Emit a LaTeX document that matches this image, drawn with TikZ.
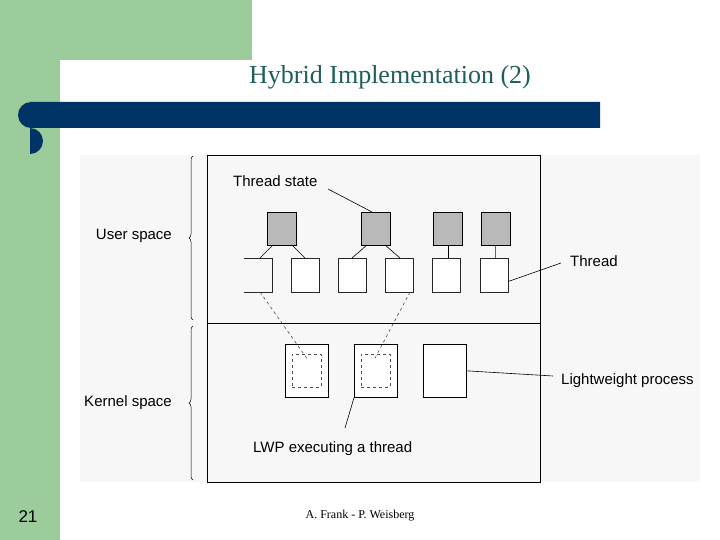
\documentclass[tikz,border=0pt]{standalone}
\usepackage{fontspec}
\setmainfont{Liberation Serif}
\setsansfont{Liberation Sans}
\usetikzlibrary{decorations.pathreplacing}
\definecolor{sgreen}{HTML}{9DCC9C}
\definecolor{sblue}{HTML}{003466}
\definecolor{steal}{HTML}{1F5F5B}
\begin{document}
\begin{tikzpicture}[x=1pt,y=-1pt,
  lbl/.style={font=\sffamily\fontsize{15}{15}\selectfont,inner sep=0pt},
  st/.style={draw=black,fill=gray!55,line width=0.8pt},
  th/.style={draw=black!85,fill=white,line width=0.7pt},
  lwp/.style={draw=black,fill=white,line width=0.7pt},
  dsh/.style={draw=black!70,dashed,line width=0.6pt},
  ln/.style={draw=black,line width=0.6pt}]
\useasboundingbox (0,0) rectangle (720,540);
\fill[white] (0,0) rectangle (720,540);
\fill[sgreen] (0,0) rectangle (252,60);
\fill[sgreen] (0,0) rectangle (60,540);
\fill[white] (60,128) -- (60,85) arc[start angle=180,end angle=90,radius=25] -- (252,60) -- (252,128) -- cycle;
\fill[sblue] (30,102) -- (600,102) -- (600,128) -- (30,128) arc[start angle=90,end angle=270,radius=-13] -- cycle;
\fill[sblue] (31,102) rectangle (600,128);
\fill[sblue] (31,115) circle[radius=13];
\node[text=steal,font=\fontsize{26}{26}\selectfont,inner sep=0pt] (title) at (390,77) {Hybrid Implementation (2)};
\fill[black!3] (80,155) rectangle (700,482);
% outer box
\draw[line width=0.8pt] (207,155) rectangle (540,482);
\draw[line width=1pt] (207,323) -- (540,323);
% thread states
\node[st,minimum width=29pt,minimum height=33pt,anchor=north west] (s1) at (267,212) {};
\node[st,minimum width=29pt,minimum height=33pt,anchor=north west] (s2) at (361,212) {};
\node[st,minimum width=29pt,minimum height=33pt,anchor=north west] (s3) at (433,212) {};
\node[st,minimum width=29pt,minimum height=33pt,anchor=north west] (s4) at (481,212) {};
% threads
\foreach \n/\x in {t2/291,t3/338,t4/385,t5/432,t6/480}{
  \node[th,minimum width=28pt,minimum height=34pt,anchor=north west] (\n) at (\x,258) {};}
\coordinate (t1a) at (244,258);
\node[inner sep=0pt,minimum width=28pt,minimum height=34pt,anchor=north west] (t1) at (244,258) {};
\draw[th,fill=none] (244,258) -- (272,258) -- (272,292) -- (244,292);
\draw[ln] (273,245) -- (260,258);
\draw[ln] (292,245) -- (305,258);
\draw[ln] (367,245) -- (352,258);
\draw[ln] (385,245) -- (400,258);
\draw[ln] (s3.south) -- (s3.south |- t5.north);
\draw[ln,black!60,line width=1pt] (s4.south) -- (s4.south |- t6.north);
% LWPs
\node[lwp,minimum width=43pt,minimum height=53pt,anchor=north west] (l1) at (285,344) {};
\node[lwp,minimum width=43pt,minimum height=53pt,anchor=north west] (l2) at (354,344) {};
\node[lwp,minimum width=43pt,minimum height=53pt,anchor=north west] (l3) at (423,344) {};
\node[dsh,minimum width=29pt,minimum height=33pt] (i1) at (l1.center) {};
\node[dsh,minimum width=29pt,minimum height=33pt] (i2) at (l2.center) {};
\draw[dsh] (260,292) -- (308,360);
\draw[dsh] (410,292) -- (374,360);
% labels
\node[lbl,anchor=west] (ts) at (233,181) {Thread state};
\draw[ln] (328,189) -- (372,212);
\node[lbl,anchor=west] (thr) at (570,261) {Thread};
\draw[ln] (t6.east) ++(0,6) -- (561,263);
\node[lbl,anchor=west] (lp) at (561,381) {Lightweight process};
\draw[ln] (l3.east) -- (553,376);
\node[lbl,anchor=west] (lwx) at (253,449) {LWP executing a thread};
\draw[ln] (345,428) -- (l2.south west);
\node[lbl,anchor=east] (us) at (172,236) {User space};
\node[lbl,anchor=east] (ks) at (172,403) {Kernel space};
\draw[decorate,decoration={brace,amplitude=4pt},line width=0.5pt] (193,320) -- (193,156);
\draw[decorate,decoration={brace,amplitude=4pt},line width=0.5pt] (193,480) -- (193,326);
\node[font=\sffamily\fontsize{17}{17}\selectfont,inner sep=0pt] (pg) at (28,517) {21};
\node[font=\fontsize{12}{12}\selectfont,inner sep=0pt] (ft) at (360,516) {A. Frank - P. Weisberg};
\end{tikzpicture}
\end{document}
